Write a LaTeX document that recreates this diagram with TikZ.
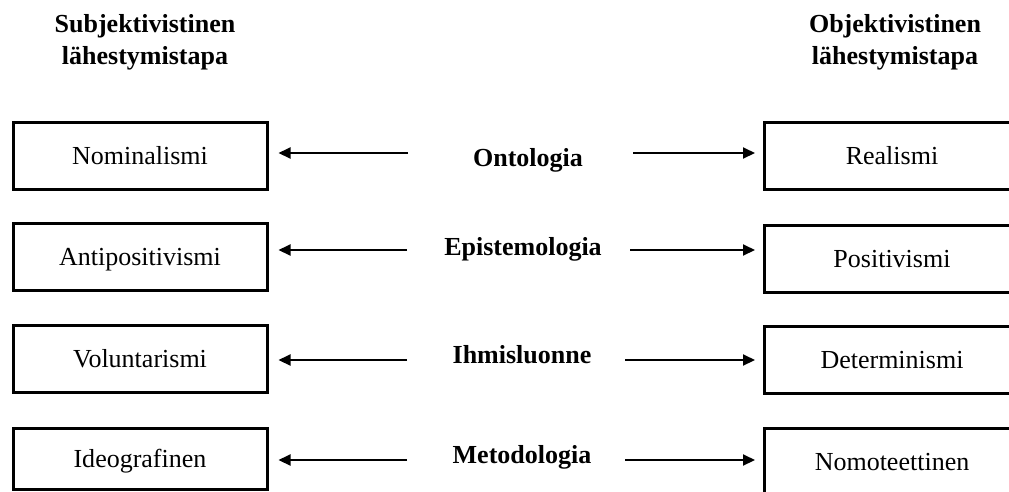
\documentclass[tikz,border=0pt]{standalone}
\usepackage{fontspec}
\setmainfont{Liberation Serif}
\usetikzlibrary{arrows.meta}
\begin{document}
\begin{tikzpicture}[x=1pt,y=-1pt,
  box/.style={draw, line width=3pt, minimum width=254pt, minimum height=67pt, inner sep=0pt,
              text depth=0pt, text height=17pt, font=\fontsize{26}{32}\selectfont},
  rbox/.style={box, minimum width=256pt},
  head/.style={font=\bfseries\fontsize{26}{32}\selectfont, align=center, inner sep=0pt, anchor=north},
  dim/.style={font=\bfseries\fontsize{26}{32}\selectfont, inner sep=0pt, anchor=base},
  arr/.style={line width=2pt, -{Triangle[length=12pt,width=11pt]}},
  larr/.style={arr, shorten >=10pt},
  rarr/.style={arr, shorten >=7.5pt}]
\clip (0,0) rectangle (1009,491);
\fill[white] (0,0) rectangle (1009,491);

\node[head] (hs) at (145,14) {Subjektivistinen\\lähestymistapa};
\node[head] (ho) at (895,14) {Objektivistinen\\lähestymistapa};

\node[box] (l1) at (140,155.5) {Nominalismi};
\node[box] (l2) at (140,256.5) {Antipositivismi};
\node[box] (l3) at (140,358.5) {Voluntarismi};
\node[box, minimum height=61pt] (l4) at (140,458.5) {Ideografinen};

\node[rbox] (r1) at (892,156) {Realismi};
\node[rbox] (r2) at (892,258.5) {Positivismi};
\node[rbox] (r3) at (892,360) {Determinismi};
\node[rbox] (r4) at (892,462) {Nomoteettinen};

\node[dim] (c1) at (528,166) {Ontologia};
\node[dim] (c2) at (523,255) {Epistemologia};
\node[dim] (c3) at (522,363) {Ihmisluonne};
\node[dim] (c4) at (522,463) {Metodologia};

\coordinate (a1) at (408,153); \coordinate (b1) at (633,153);
\coordinate (a2) at (407,250); \coordinate (b2) at (630,250);
\coordinate (a3) at (407,360); \coordinate (b3) at (625,360);
\coordinate (a4) at (407,460); \coordinate (b4) at (625,460);

\draw[larr] (a1) -- (a1 -| l1.east);
\draw[rarr] (b1) -- (b1 -| r1.west);
\draw[larr] (a2) -- (a2 -| l2.east);
\draw[rarr] (b2) -- (b2 -| r2.west);
\draw[larr] (a3) -- (a3 -| l3.east);
\draw[rarr] (b3) -- (b3 -| r3.west);
\draw[larr] (a4) -- (a4 -| l4.east);
\draw[rarr] (b4) -- (b4 -| r4.west);
\end{tikzpicture}
\end{document}
